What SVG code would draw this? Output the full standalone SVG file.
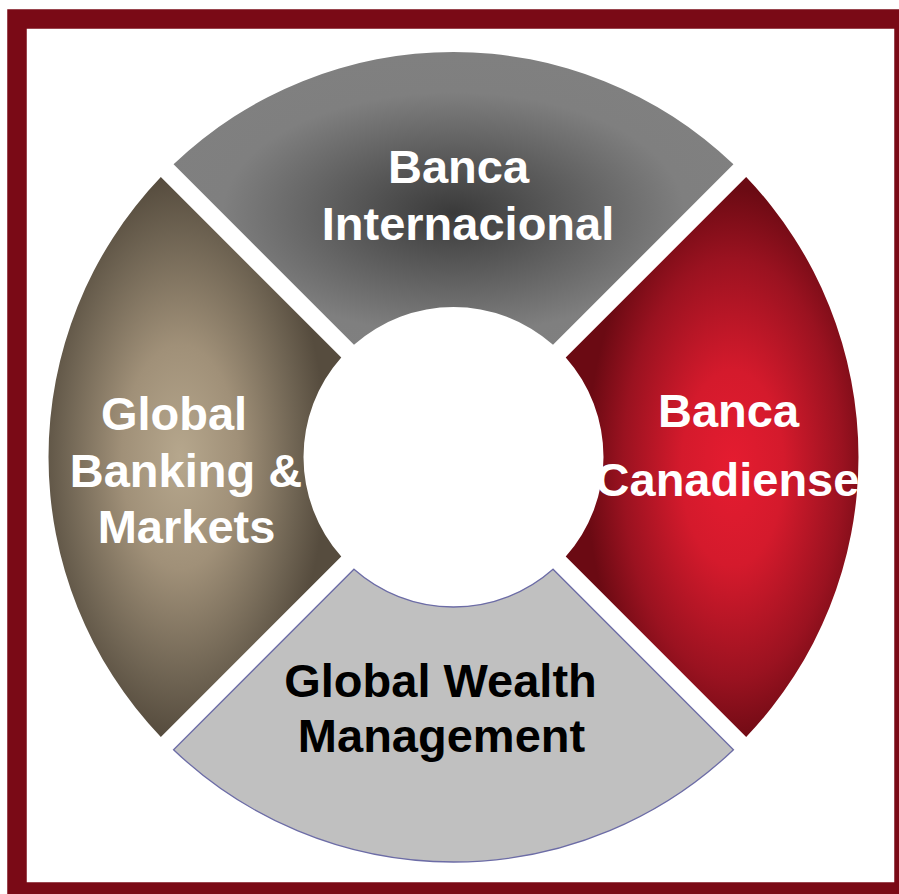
<svg xmlns="http://www.w3.org/2000/svg" width="899" height="894" viewBox="0 0 899 894">
<defs>
<style>
.lbl{font-family:"Liberation Sans",Arial,sans-serif;font-weight:bold;font-size:47px;text-anchor:middle}
.w{fill:#ffffff}
.k{fill:#000000}
</style>
<radialGradient id="gTop" cx="0.5" cy="0.55" r="0.55">
<stop offset="0" stop-color="#3a3a3a"/>
<stop offset="0.35" stop-color="#5a5a5a"/>
<stop offset="0.75" stop-color="#7f7f7f"/>
<stop offset="1" stop-color="#808080"/>
</radialGradient>
<radialGradient id="gRight" cx="0.57" cy="0.52" r="0.5">
<stop offset="0" stop-color="#e51c30"/>
<stop offset="0.35" stop-color="#d41a2c"/>
<stop offset="0.75" stop-color="#9a1220"/>
<stop offset="1" stop-color="#6b0a13"/>
</radialGradient>
<radialGradient id="gLeft" cx="0.45" cy="0.5" r="0.5">
<stop offset="0" stop-color="#b6a78d"/>
<stop offset="0.4" stop-color="#a09078"/>
<stop offset="0.8" stop-color="#6e6352"/>
<stop offset="1" stop-color="#564c3e"/>
</radialGradient>
</defs>
<rect x="0" y="0" width="899" height="894" fill="#ffffff"/>
<rect id="frame" x="17" y="19" width="887" height="873" fill="#ffffff" stroke="#7a0a16" stroke-width="19.5"/>
<g id="connectors"></g>
<g id="banca-internacional">
<path d="M 173.56,164.33 A 405 405 0 0 1 733.44,164.33 L 553.01,344.76 A 150 150 0 0 0 353.99,344.76 Z" fill="url(#gTop)"/>
<text class="lbl w" x="458.5" y="183">Banca</text>
<text class="lbl w" x="468" y="240">Internacional</text>
</g>
<g id="banca-canadiense">
<path d="M 746.17,177.06 A 405 405 0 0 1 746.17,736.94 L 565.74,556.51 A 150 150 0 0 0 565.74,357.49 Z" fill="url(#gRight)"/>
<text class="lbl w" x="728.5" y="427">Banca</text>
<text class="lbl w" x="727.5" y="496">Canadiense</text>
</g>
<g id="global-wealth-management">
<path d="M 733.44,749.67 A 405 405 0 0 1 173.56,749.67 L 353.99,569.24 A 150 150 0 0 0 553.01,569.24 Z" fill="#c0c0c0" stroke="#6c6ca6" stroke-width="1.3"/>
<text class="lbl k" x="440.5" y="697">Global Wealth</text>
<text class="lbl k" x="441.5" y="752">Management</text>
</g>
<g id="global-banking-markets">
<path d="M 160.83,736.94 A 405 405 0 0 1 160.83,177.06 L 341.26,357.49 A 150 150 0 0 0 341.26,556.51 Z" fill="url(#gLeft)"/>
<text class="lbl w" x="174" y="430">Global</text>
<text class="lbl w" x="186" y="487">Banking &amp;</text>
<text class="lbl w" x="186.5" y="543">Markets</text>
</g>
</svg>
